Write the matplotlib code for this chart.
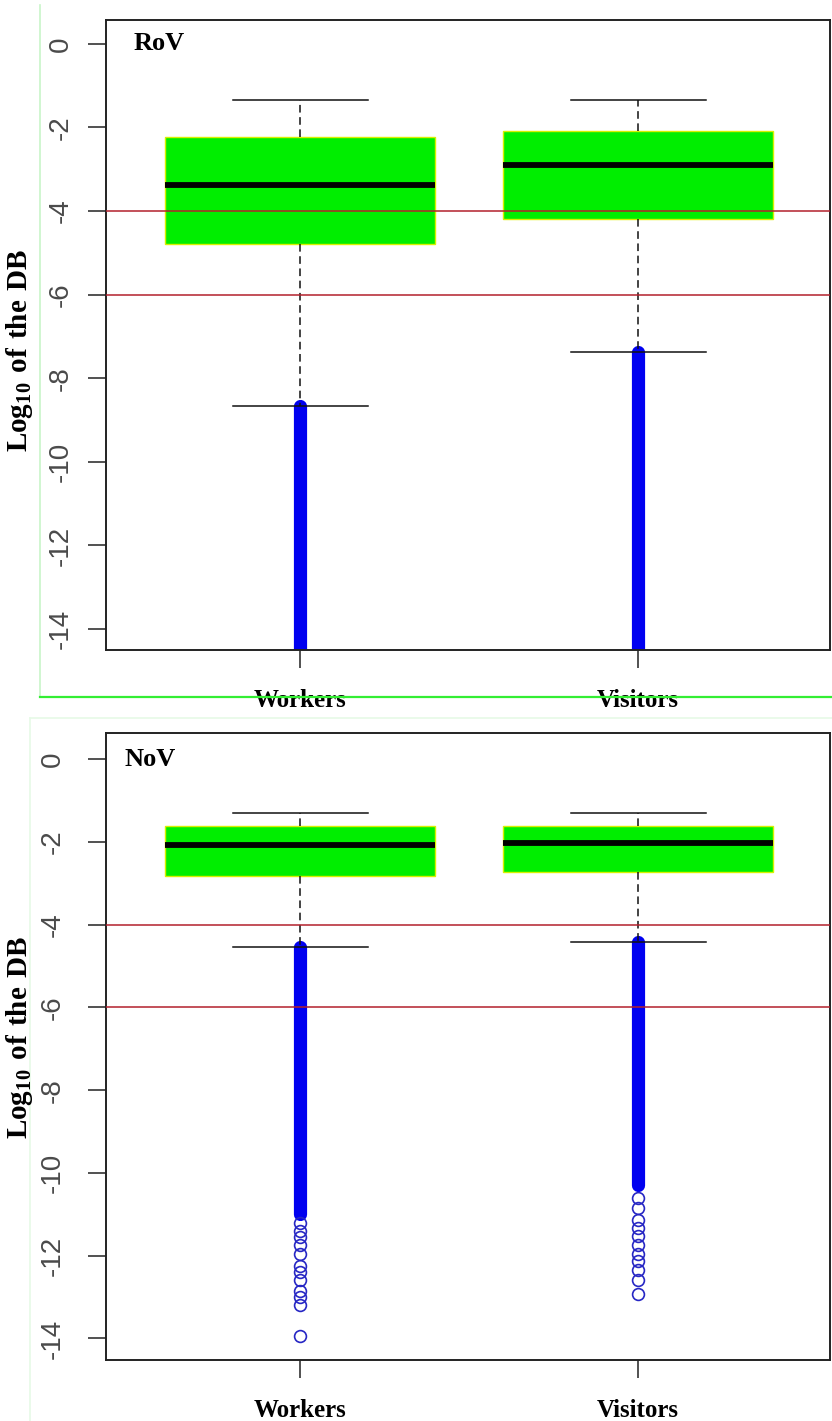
import matplotlib
matplotlib.use('Agg')
import matplotlib.pyplot as plt
from matplotlib.lines import Line2D

plt.rcParams['axes.unicode_minus'] = False
plt.rcParams['mathtext.fontset'] = 'custom'
plt.rcParams['mathtext.rm'] = 'Liberation Serif:bold'
plt.rcParams['mathtext.bf'] = 'Liberation Serif:bold'

# ---------------- data ----------------
categories = ['Workers', 'Visitors']
panel_names = ['RoV', 'NoV']
yticks = [0, -2, -4, -6, -8, -10, -12, -14]
ref_lines = [-4, -6]

# RoV panel
rov_whishi = [-1.34, -1.34]
rov_q3 = [-2.24, -2.08]
rov_med = [-3.37, -2.91]
rov_q1 = [-4.80, -4.18]
rov_whislo = [-8.66, -7.37]
rov_dense_top = [-8.66, -7.37]      # dense run of outliers (top end)
rov_dense_bottom = [-14.6, -14.6]   # dense run of outliers (bottom end)
rov_sparse_workers = []
rov_sparse_visitors = []

# NoV panel
nov_whishi = [-1.30, -1.30]
nov_q3 = [-1.62, -1.62]
nov_med = [-2.08, -2.03]
nov_q1 = [-2.83, -2.74]
nov_whislo = [-4.55, -4.42]
nov_dense_top = [-4.55, -4.42]
nov_dense_bottom = [-11.0, -10.3]
nov_sparse_workers = [-11.2, -11.4, -11.55, -11.75, -11.95, -12.25, -12.4,
                      -12.58, -12.85, -13.0, -13.18, -13.93]
nov_sparse_visitors = [-10.6, -10.85, -11.14, -11.33, -11.53, -11.73, -11.97,
                       -12.13, -12.34, -12.58, -12.92]

panels = [
    dict(name=panel_names[0], whishi=rov_whishi, q3=rov_q3, med=rov_med, q1=rov_q1,
         whislo=rov_whislo, dtop=rov_dense_top, dbot=rov_dense_bottom,
         sparse=[rov_sparse_workers, rov_sparse_visitors]),
    dict(name=panel_names[1], whishi=nov_whishi, q3=nov_q3, med=nov_med, q1=nov_q1,
         whislo=nov_whislo, dtop=nov_dense_top, dbot=nov_dense_bottom,
         sparse=[nov_sparse_workers, nov_sparse_visitors]),
]

# ---------------- layout ----------------
W, H = 832, 1421
fig = plt.figure(figsize=(W / 100, H / 100), dpi=100)

def px_axes(left, top, right, bottom):
    return fig.add_axes([left / W, 1 - bottom / H, (right - left) / W, (bottom - top) / H])

axes_px = [(106, 20, 830, 650), (106, 733, 830, 1360)]
xlims = [(0.425, 2.568), (0.425, 2.568)]
ylims = [(-14.5, 0.57), (-14.52, 0.63)]
ylabel_y = [350, 1037]
ylabel_x = [20, 20]
ypads = [10, 16]
name_pos = [(0.038, 0.962), (0.025, 0.957)]

# decorative green frames from the source image
fig.add_artist(Line2D([40 / W, 40 / W], [1 - 5 / H, 1 - 697 / H], color='#c8f5c8', lw=1.2))
fig.add_artist(Line2D([40 / W, 1.0], [1 - 697 / H, 1 - 697 / H], color='#33ee33', lw=1.6))
fig.add_artist(Line2D([30 / W, 1.0], [1 - 718 / H, 1 - 718 / H], color='#e6fae6', lw=1.2))
fig.add_artist(Line2D([30 / W, 30 / W], [1 - 718 / H, 0.0], color='#e6fae6', lw=1.2))

positions = [1, 2]
blue = '#0000f0'

for i, p in enumerate(panels):
    ax = px_axes(*axes_px[i])
    stats = []
    for j, cat in enumerate(categories):
        stats.append(dict(label=cat, med=p['med'][j], q1=p['q1'][j], q3=p['q3'][j],
                          whislo=p['whislo'][j], whishi=p['whishi'][j],
                          fliers=p['sparse'][j]))
    # dense runs of outlier circles
    ax.vlines(positions, p['dbot'], p['dtop'], colors=blue, lw=9.5,
              capstyle='round', zorder=2)
    ax.bxp(stats, positions=positions, widths=0.8, capwidths=0.4,
           patch_artist=True, showfliers=True,
           boxprops=dict(facecolor='#00ee00', edgecolor='#d8f000', lw=1.0),
           medianprops=dict(color='black', lw=4.2, solid_capstyle='butt'),
           whiskerprops=dict(color='#111111', lw=1.1, linestyle=(0, (5, 3))),
           capprops=dict(color='#111111', lw=1.1),
           flierprops=dict(marker='o', markersize=8.5, markerfacecolor='none',
                           markeredgecolor='#2626c4', markeredgewidth=1.2,
                           linestyle='none'))
    for r in ref_lines:
        ax.axhline(r, color='#b3202c', lw=1.1, zorder=5)

    ax.set_xlim(*xlims[i])
    ax.set_ylim(*ylims[i])
    ax.set_xticks(positions)
    ax.set_xticklabels(categories, family='Liberation Serif', weight='bold',
                       fontsize=18, color='black')
    ax.set_yticks(yticks)
    ax.set_yticklabels([str(v) for v in yticks], family='Liberation Sans',
                       fontsize=20, color='#4a4a4a', rotation=90, va='center')
    ax.tick_params(axis='y', length=13, width=1.2, color='#333333', pad=ypads[i])
    ax.tick_params(axis='x', length=13, width=1.2, color='#333333', pad=15)
    for s in ax.spines.values():
        s.set_linewidth(1.4)
        s.set_color('#222222')
    ax.text(name_pos[i][0], name_pos[i][1], p['name'], transform=ax.transAxes,
            family='Liberation Serif', weight='bold', fontsize=19,
            ha='left', va='center')
    fig.text(ylabel_x[i] / W, 1 - ylabel_y[i] / H,
             r'$\mathbf{Log}_{\mathbf{10}}\ \mathbf{of\ the\ DB}$',
             rotation=90, ha='center', va='center', fontsize=21)

fig.savefig('out.png', dpi=100, facecolor='white')
